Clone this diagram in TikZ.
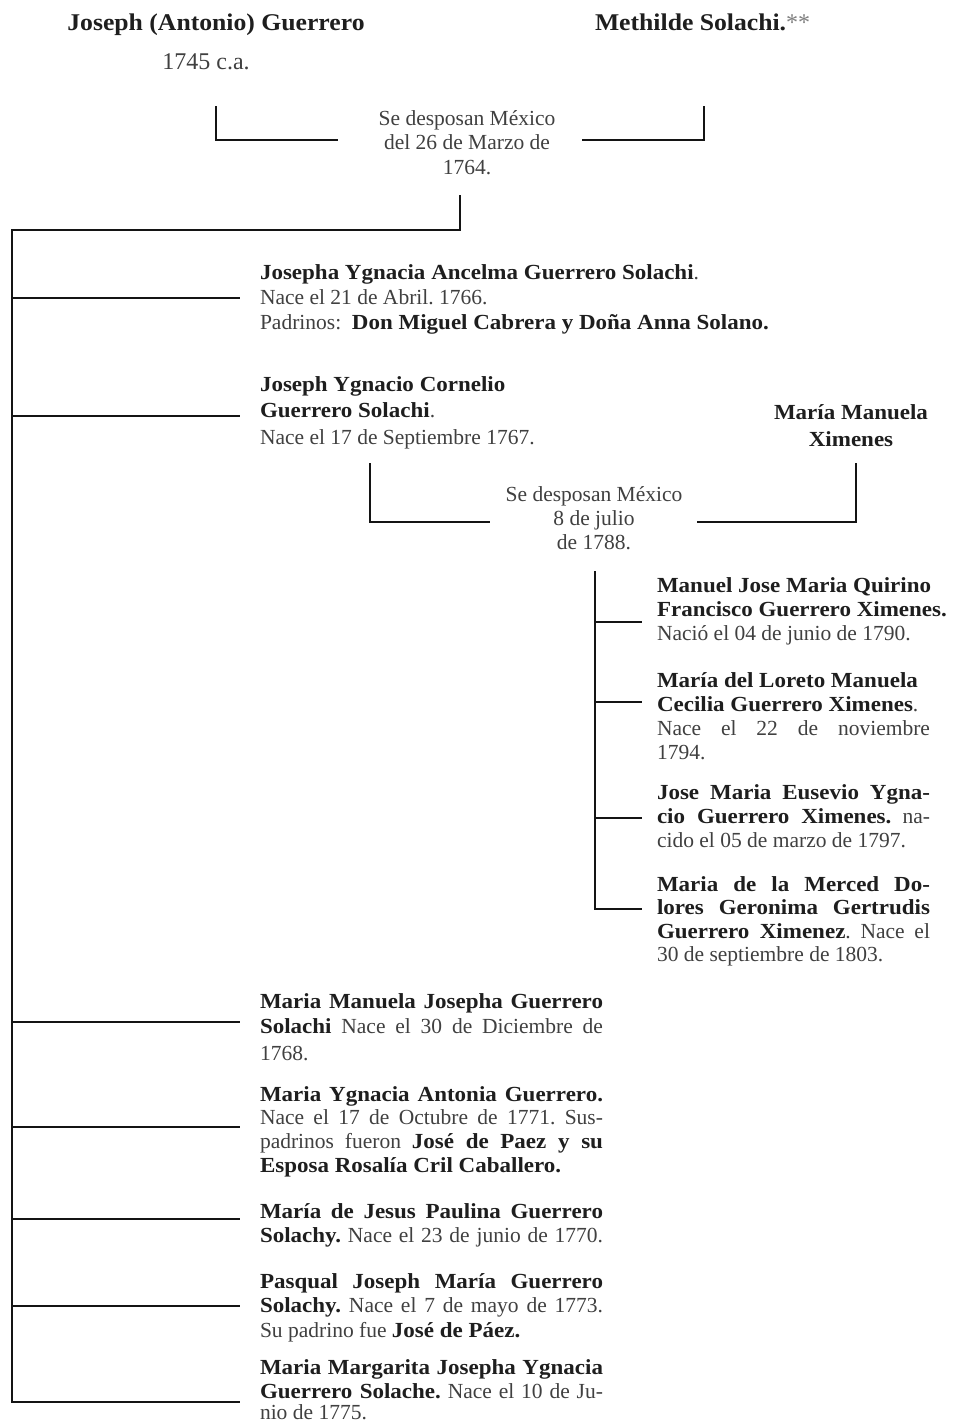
\documentclass[tikz,border=0pt]{standalone}
\usepackage{fontspec}
\setmainfont{Liberation Serif}[BoldFeatures={FakeStretch=1.07}]
\definecolor{txt}{HTML}{404040}
\definecolor{ink}{HTML}{1E1E1E}
\definecolor{star}{HTML}{808080}
\newcommand\bt[1]{{\bfseries\color{ink}#1}}
\newcommand\jb[2]{\makebox[#1][s]{#2}}
\frenchspacing
\begin{document}
\begin{tikzpicture}[x=1pt,y=-1pt,
  lbl/.style={inner sep=0pt, outer sep=0pt, anchor=base west, text=txt, font=\fontsize{21.5}{24}\selectfont\frenchspacing},
  clbl/.style={lbl, anchor=base},
  head/.style={clbl, font=\fontsize{24}{28}\selectfont},
  wire/.style={line width=2.4pt, draw=black!92}]
\useasboundingbox[fill=white] (0,0) rectangle (956,1422);

% --- parents
\node[head] (p1) at (216,30) {\bt{Joseph (Antonio) Guerrero}};
\node[head] (p1d) at (206,69) {1745 c.a.};
\node[head, anchor=base west] (p2) at (595,30) {\bt{Methilde Solachi.}{\color{star}**}};

\node[clbl] (m1a) at (467,125) {Se desposan México};
\node[clbl] (m1b) at (467,149) {del 26 de Marzo de};
\node[clbl] (m1c) at (467,174) {1764.};

\coordinate (k1l) at (216,106);
\coordinate (k1lh) at (338,140);
\coordinate (k1r) at (704,106);
\coordinate (k1rh) at (582,140);
\draw[wire] (k1l) |- (k1lh);
\draw[wire] (k1r) |- (k1rh);

% --- trunk
\coordinate (t0) at (460,195);
\coordinate (t1) at (12,230);
\coordinate (tb7) at (12,1402);
\coordinate (te7) at (240,1402);
\draw[wire] (t0) |- (t1) -- (tb7) -- (te7);
\foreach \n/\y in {1/298,2/416,3/1022,4/1127,5/1219,6/1306}{
  \coordinate (tb\n) at (12,\y);
  \coordinate (te\n) at (240,\y);
  \draw[wire] (tb\n) -- (te\n);
}

% --- child 1
\node[lbl] (c1a) at (260,279) {\bt{Josepha Ygnacia Ancelma Guerrero Solachi}.};
\node[lbl] (c1b) at (260,304) {Nace el 21 de Abril. 1766.};
\node[lbl] (c1c) at (260,329) {Padrinos:\ \ \bt{Don Miguel Cabrera y Doña Anna Solano.}};

% --- child 2 and spouse
\node[lbl] (c2a) at (260,391) {\bt{Joseph Ygnacio Cornelio}};
\node[lbl] (c2b) at (260,417) {\bt{Guerrero Solachi}.};
\node[lbl] (c2c) at (260,444) {Nace el 17 de Septiembre 1767.};
\node[clbl] (s2a) at (851,419) {\bt{María Manuela}};
\node[clbl] (s2b) at (851,446) {\bt{Ximenes}};

\node[clbl] (m2a) at (594,501) {Se desposan México};
\node[clbl] (m2b) at (594,525) {8 de julio};
\node[clbl] (m2c) at (594,549) {de 1788.};

\coordinate (k2l) at (370,463);
\coordinate (k2lh) at (490,522);
\coordinate (k2r) at (856,463);
\coordinate (k2rh) at (697,522);
\draw[wire] (k2l) |- (k2lh);
\draw[wire] (k2r) |- (k2rh);

% --- grandchildren
\coordinate (g0) at (595,571);
\coordinate (gb4) at (595,909);
\coordinate (ge4) at (642,909);
\draw[wire] (g0) -- (gb4) -- (ge4);
\foreach \n/\y in {1/622,2/702,3/818}{
  \coordinate (gb\n) at (595,\y);
  \coordinate (ge\n) at (642,\y);
  \draw[wire] (gb\n) -- (ge\n);
}

\node[lbl] (g1a) at (657,592) {\bt{Manuel Jose Maria Quirino}};
\node[lbl] (g1b) at (657,616) {\bt{Francisco Guerrero Ximenes.}};
\node[lbl] (g1c) at (657,640) {Nació el 04 de junio de 1790.};

\node[lbl] (g2a) at (657,687) {\bt{María del Loreto Manuela}};
\node[lbl] (g2b) at (657,711) {\bt{Cecilia Guerrero Ximenes}.};
\node[lbl] (g2c) at (657,735) {\jb{273pt}{Nace el 22 de noviembre}};
\node[lbl] (g2d) at (657,759) {1794.};

\node[lbl] (g3a) at (657,799) {\jb{273pt}{\bt{Jose Maria Eusevio Ygna-}}};
\node[lbl] (g3b) at (657,823) {\jb{273pt}{\bt{cio Guerrero Ximenes.} na-}};
\node[lbl] (g3c) at (657,847) {cido el 05 de marzo de 1797.};

\node[lbl] (g4a) at (657,891) {\jb{273pt}{\bt{Maria de la Merced Do-}}};
\node[lbl] (g4b) at (657,914) {\jb{273pt}{\bt{lores Geronima Gertrudis}}};
\node[lbl] (g4c) at (657,938) {\jb{273pt}{\bt{Guerrero Ximenez}. Nace el}};
\node[lbl] (g4d) at (657,961) {30 de septiembre de 1803.};

% --- later children
\node[lbl] (d1a) at (260,1008) {\jb{343pt}{\bt{Maria Manuela Josepha Guerrero}}};
\node[lbl] (d1b) at (260,1033) {\jb{343pt}{\bt{Solachi} Nace el 30 de Diciembre de}};
\node[lbl] (d1c) at (260,1060) {1768.};

\node[lbl] (d2a) at (260,1101) {\jb{343pt}{\bt{Maria Ygnacia Antonia Guerrero.}}};
\node[lbl] (d2b) at (260,1124) {\jb{343pt}{Nace el 17 de Octubre de 1771. Sus-}};
\node[lbl] (d2c) at (260,1148) {\jb{343pt}{padrinos fueron \bt{José de Paez y su}}};
\node[lbl] (d2d) at (260,1172) {\bt{Esposa Rosalía Cril Caballero.}};

\node[lbl] (d3a) at (260,1218) {\jb{343pt}{\bt{María de Jesus Paulina Guerrero}}};
\node[lbl] (d3b) at (260,1242) {\jb{343pt}{\bt{Solachy.} Nace el 23 de junio de 1770.}};

\node[lbl] (d4a) at (260,1288) {\jb{343pt}{\bt{Pasqual Joseph María Guerrero}}};
\node[lbl] (d4b) at (260,1312) {\jb{343pt}{\bt{Solachy.} Nace el 7 de mayo de 1773.}};
\node[lbl] (d4c) at (260,1337) {Su padrino fue \bt{José de Páez.}};

\node[lbl] (d5a) at (260,1374) {\jb{343pt}{\bt{Maria Margarita Josepha Ygnacia}}};
\node[lbl] (d5b) at (260,1398) {\jb{343pt}{\bt{Guerrero Solache.} Nace el 10 de Ju-}};
\node[lbl] (d5c) at (260,1419) {nio de 1775.};
\end{tikzpicture}
\end{document}
